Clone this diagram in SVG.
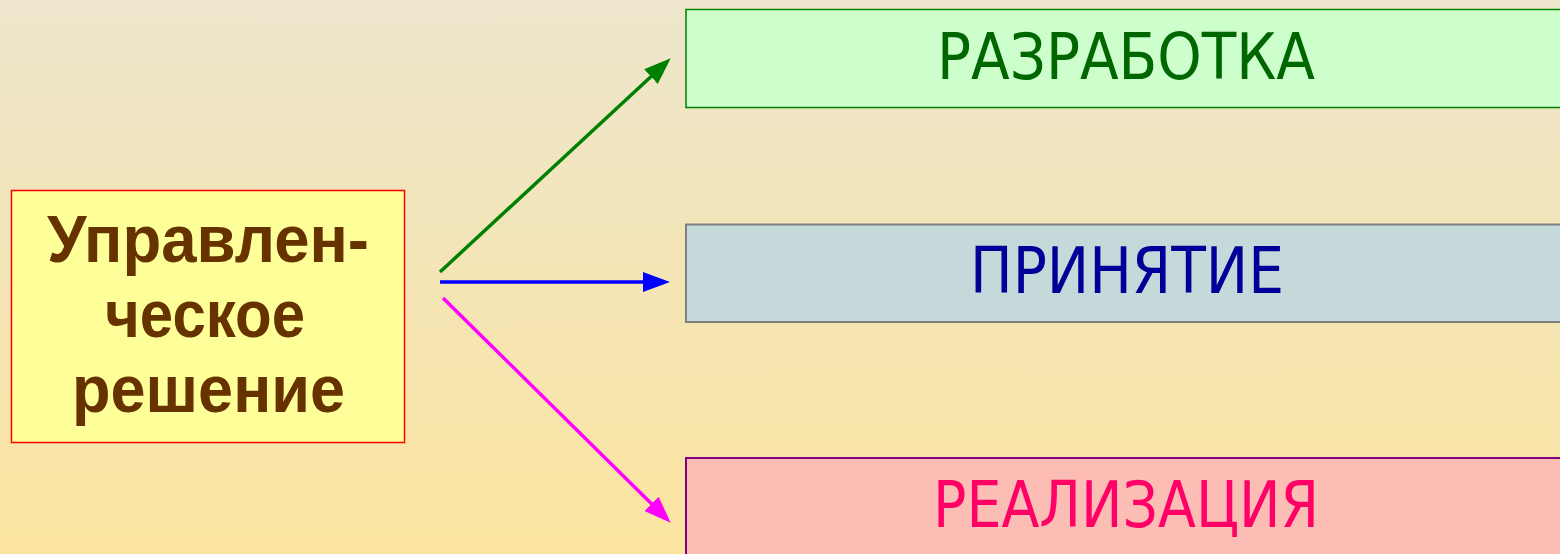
<svg xmlns="http://www.w3.org/2000/svg" width="1560" height="554" viewBox="0 0 1560 554">
  <defs>
    <linearGradient id="bg" x1="0" y1="0" x2="0" y2="1">
      <stop offset="0" stop-color="#EDE6CD"/>
      <stop offset="1" stop-color="#FBE49F"/>
    </linearGradient>
    <marker id="ahG" markerUnits="userSpaceOnUse" markerWidth="28" markerHeight="22" viewBox="0 0 28 22" refX="16" refY="10" orient="auto">
      <path d="M0,0 L27,10 L0,20 Z" fill="#008000"/>
    </marker>
    <marker id="ahB" markerUnits="userSpaceOnUse" markerWidth="28" markerHeight="22" viewBox="0 0 28 22" refX="16" refY="10" orient="auto">
      <path d="M0,0 L27,10 L0,20 Z" fill="#0000FF"/>
    </marker>
    <marker id="ahM" markerUnits="userSpaceOnUse" markerWidth="28" markerHeight="22" viewBox="0 0 28 22" refX="16" refY="10" orient="auto">
      <path d="M0,0 L27,10 L0,20 Z" fill="#FF00FF"/>
    </marker>
  </defs>
  <style>
    .main { font-family: "Liberation Sans", Arial, sans-serif; font-weight: bold; font-size: 66px; fill: #663300; text-anchor: middle; }
    .lbl { font-family: "DejaVu Sans", "Liberation Sans", sans-serif; font-stretch: condensed; font-size: 64px; text-anchor: middle; }
    .conn { fill: none; stroke-width: 3.5; }
  </style>
  <rect x="0" y="0" width="1560" height="554" fill="url(#bg)"/>

  <g id="node-decision">
    <rect x="11.5" y="190.5" width="393" height="252" fill="#FFFF99" stroke="#FF0000" stroke-width="1.5"/>
    <text class="main" x="208" y="262" textLength="322" lengthAdjust="spacingAndGlyphs">Управлен-</text>
    <text class="main" x="205" y="337" textLength="200" lengthAdjust="spacingAndGlyphs">ческое</text>
    <text class="main" x="208.5" y="412" textLength="273" lengthAdjust="spacingAndGlyphs">решение</text>
  </g>

  <g id="node-development">
    <rect x="686" y="9.5" width="880" height="98" fill="#CCFFCC" stroke="#008000" stroke-width="1.5"/>
    <text class="lbl" x="1126" y="79" fill="#006600" textLength="378" lengthAdjust="spacingAndGlyphs">РАЗРАБОТКА</text>
  </g>

  <g id="node-adoption">
    <rect x="686" y="224.5" width="880" height="97.5" fill="#C5D9DB" stroke="#808080" stroke-width="2"/>
    <text class="lbl" x="1127" y="293" fill="#000099" textLength="314" lengthAdjust="spacingAndGlyphs">ПРИНЯТИЕ</text>
  </g>

  <g id="node-implementation">
    <rect x="686" y="458" width="880" height="110" fill="#FCBDB5" stroke="#800080" stroke-width="2"/>
    <text class="lbl" x="1126" y="527" fill="#FF0066" textLength="386" lengthAdjust="spacingAndGlyphs">РЕАЛИЗАЦИЯ</text>
  </g>

  <g id="connectors">
    <line class="conn" x1="440" y1="272" x2="662.7" y2="65.8" stroke="#008000" marker-end="url(#ahG)"/>
    <line class="conn" x1="440" y1="282" x2="659" y2="282" stroke="#0000FF" marker-end="url(#ahB)"/>
    <line class="conn" x1="443" y1="298" x2="662.9" y2="515" stroke="#FF00FF" marker-end="url(#ahM)"/>
  </g>
</svg>
